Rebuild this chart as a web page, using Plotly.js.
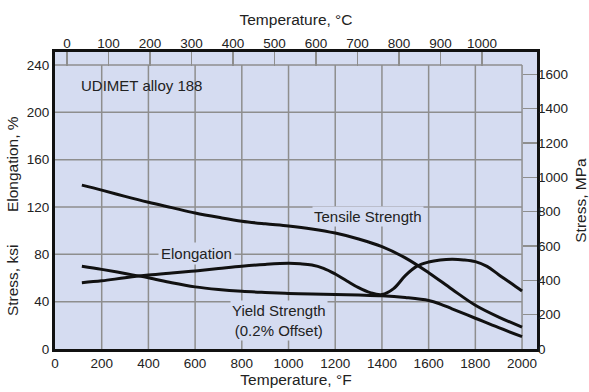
<!DOCTYPE html>
<html>
<head>
<meta charset="utf-8">
<script src="https://cdn.plot.ly/plotly-3.0.1.min.js"></script>
<style>html,body{margin:0;padding:0;background:#fff;}#chart{width:589px;height:392px;}</style>
</head>
<body>
<div id="chart"></div>
<script>
// Temperature (°F) and values (ksi for stress, % for elongation)
const tensileF   = [115, 200, 300, 400, 500, 600, 700, 800, 900, 1000, 1100, 1200, 1300, 1400, 1500, 1600, 1700, 1800, 1900, 2000];
const tensileKsi = [138.5, 134.3, 129, 124, 119.5, 115, 111.3, 108, 105.8, 104, 101.5, 98, 93, 86.5, 77, 64.5, 50.5, 37, 27, 18.5];

const yieldF   = [115, 200, 300, 400, 500, 600, 700, 800, 900, 1000, 1100, 1200, 1300, 1400, 1500, 1600, 1650, 1700, 1800, 1900, 2000];
const yieldKsi = [70, 67.3, 63.8, 60.2, 56, 52.5, 50.3, 48.8, 47.8, 47, 46.4, 46, 45.6, 45, 43.5, 41, 38, 34, 26, 18, 10.5];

const elongF   = [115, 200, 300, 400, 500, 600, 700, 800, 900, 1000, 1050, 1100, 1150, 1200, 1250, 1300, 1350, 1400, 1450, 1500, 1550, 1600, 1650, 1700, 1750, 1800, 1850, 1900, 1950, 2000];
const elongPct = [56, 57.6, 60.2, 62.5, 64.3, 66, 68, 70, 71.5, 72.4, 72, 71, 68.2, 63.4, 57.5, 51.8, 47.6, 46, 51, 62, 70, 73.5, 75.2, 75.8, 75.3, 73.8, 69.8, 62.8, 56, 49];

// Tick labels
const tickF   = [0, 200, 400, 600, 800, 1000, 1200, 1400, 1600, 1800, 2000];
const tickC   = [0, 100, 200, 300, 400, 500, 600, 700, 800, 900, 1000];
const tickKsi = [0, 40, 80, 120, 160, 200, 240];
const tickMPa = [0, 200, 400, 600, 800, 1000, 1200, 1400, 1600];

const FONT = 'Arial, "Liberation Sans", Helvetica, sans-serif';
const TXT = '#222';
const BG = '#d5dcf1';
const GRID = '#8e8e8e';
const TICK_SIZE = 13.5;
const TITLE_SIZE = 15.5;
const NOTE_SIZE = 15;

const lineStyle = {color: '#111', width: 3, shape: 'spline', smoothing: 1};
const traces = [
  {x: tensileF, y: tensileKsi, mode: 'lines', line: lineStyle, name: 'Tensile Strength', hoverinfo: 'skip'},
  {x: yieldF, y: yieldKsi, mode: 'lines', line: lineStyle, name: 'Yield Strength', hoverinfo: 'skip'},
  {x: elongF, y: elongPct, mode: 'lines', line: lineStyle, name: 'Elongation', hoverinfo: 'skip'},
  {x: [], y: [], xaxis: 'x2', yaxis: 'y2', mode: 'lines', showlegend: false, hoverinfo: 'skip'}
];

// Gridlines limited to the labelled grid box (0..2000 °F, 0..240 ksi)
const fMax = tickF[tickF.length - 1];
const kMax = tickKsi[tickKsi.length - 1];
const shapes = [];
tickF.slice(1).forEach(v => shapes.push({type: 'line', xref: 'x', yref: 'y', x0: v, x1: v, y0: 0, y1: kMax,
  line: {color: GRID, width: 1.5}, layer: 'below'}));
tickKsi.slice(1).forEach(v => shapes.push({type: 'line', xref: 'x', yref: 'y', x0: 0, x1: fMax, y0: v, y1: v,
  line: {color: GRID, width: 1.5}, layer: 'below'}));

const tf = {family: FONT, size: TICK_SIZE, color: TXT};
const ttl = {family: FONT, size: TITLE_SIZE, color: TXT};
const nf = {family: FONT, size: NOTE_SIZE, color: TXT};

const layout = {
  width: 589, height: 392,
  margin: {l: 55, r: 52, t: 52, b: 43},
  paper_bgcolor: '#ffffff',
  plot_bgcolor: BG,
  showlegend: false,
  font: {family: FONT, size: 13, color: TXT},
  xaxis: {
    range: [0, 2064], tickvals: tickF, ticktext: tickF.map(String),
    showgrid: false, zeroline: false, ticks: '',
    showline: true, linecolor: '#111', linewidth: 3, mirror: true,
    tickfont: tf,
    title: {text: 'Temperature, °F', font: ttl, standoff: 4}
  },
  xaxis2: {
    overlaying: 'x', side: 'top', anchor: 'y',
    range: [-28.9, 1132.5], tickvals: tickC, ticktext: tickC.map(String),
    showgrid: false, zeroline: false, showline: false,
    ticks: 'inside', ticklen: 14, tickwidth: 1.5, tickcolor: GRID,
    tickfont: tf,
    title: {text: 'Temperature, °C', font: ttl, standoff: 6}
  },
  yaxis: {
    range: [0, 251], tickvals: tickKsi, ticktext: tickKsi.map(String),
    showgrid: false, zeroline: false, ticks: '',
    showline: true, linecolor: '#111', linewidth: 3, mirror: true,
    tickfont: tf
  },
  yaxis2: {
    overlaying: 'y', side: 'right', anchor: 'x',
    range: [0, 251 * 6.895], tickvals: tickMPa, ticktext: tickMPa.map(String),
    showgrid: false, zeroline: false, showline: false,
    ticks: 'inside', ticklen: 14, tickwidth: 1.5, tickcolor: GRID,
    tickfont: tf,
    title: {text: 'Stress, MPa', font: ttl, standoff: 15}
  },
  shapes: shapes,
  annotations: [
    {xref: 'paper', yref: 'paper', x: -0.087, y: 0.229, xanchor: 'center', yanchor: 'middle',
     text: 'Stress, ksi', textangle: -90, showarrow: false, font: ttl},
    {xref: 'paper', yref: 'paper', x: -0.087, y: 0.623, xanchor: 'center', yanchor: 'middle',
     text: 'Elongation, %', textangle: -90, showarrow: false, font: ttl},
    {xref: 'x', yref: 'y', x: 103, y: 223, xanchor: 'left', text: 'UDIMET alloy 188',
     showarrow: false, font: nf},
    {xref: 'x', yref: 'y', x: 1340, y: 111.6, text: 'Tensile Strength',
     showarrow: false, bgcolor: BG, font: nf},
    {xref: 'x', yref: 'y', x: 608, y: 80.3, text: 'Elongation',
     showarrow: false, bgcolor: BG, borderpad: 2, font: nf},
    {xref: 'x', yref: 'y', x: 959, y: 24.5, text: 'Yield Strength<br>(0.2% Offset)', align: 'center',
     showarrow: false, bgcolor: BG, font: nf}
  ]
};

Plotly.newPlot('chart', traces, layout, {staticPlot: true, displayModeBar: false});
</script>
</body>
</html>
